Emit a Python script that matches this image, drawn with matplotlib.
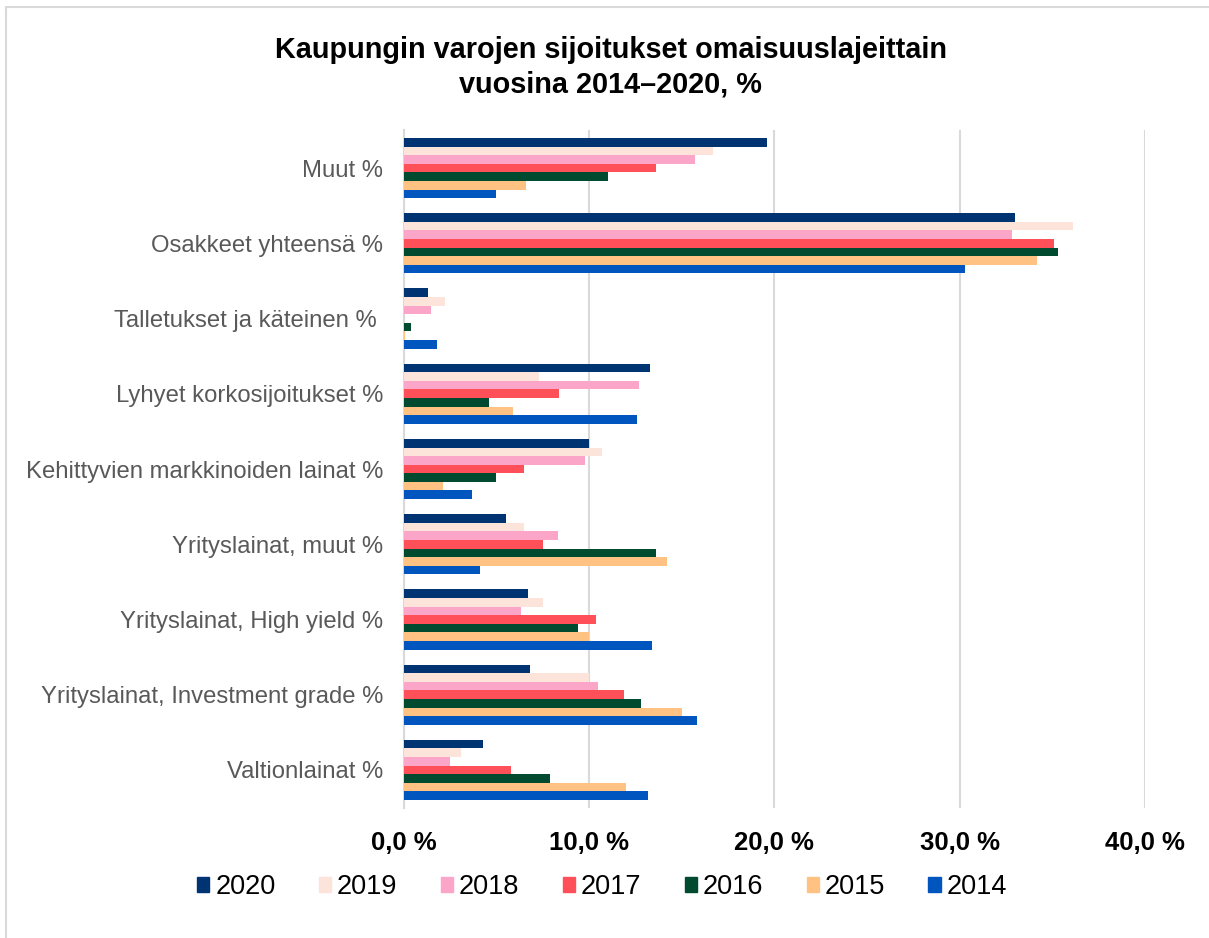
import matplotlib.pyplot as plt
import numpy as np
from matplotlib.patches import Patch, Rectangle

plt.rcParams['font.family'] = ['Liberation Sans', 'DejaVu Sans']

# categories listed bottom to top
categories = [
    "Valtionlainat %",
    "Yrityslainat, Investment grade %",
    "Yrityslainat, High yield %",
    "Yrityslainat, muut %",
    "Kehittyvien markkinoiden lainat %",
    "Lyhyet korkosijoitukset %",
    "Talletukset ja käteinen % ",
    "Osakkeet yhteensä %",
    "Muut %",
]
years = ["2020", "2019", "2018", "2017", "2016", "2015", "2014"]

v2020 = [4.3, 6.8, 6.7, 5.5, 10.0, 13.3, 1.3, 33.0, 19.6]
v2019 = [3.1, 10.0, 7.5, 6.5, 10.7, 7.3, 2.2, 36.1, 16.7]
v2018 = [2.5, 10.5, 6.3, 8.3, 9.8, 12.7, 1.45, 32.8, 15.7]
v2017 = [5.8, 11.9, 10.4, 7.5, 6.5, 8.4, 0.0, 35.1, 13.6]
v2016 = [7.9, 12.8, 9.4, 13.6, 5.0, 4.6, 0.38, 35.3, 11.0]
v2015 = [12.0, 15.0, 10.0, 14.2, 2.1, 5.9, 0.05, 34.2, 6.6]
v2014 = [13.2, 15.8, 13.4, 4.1, 3.7, 12.6, 1.8, 30.3, 5.0]
series = [v2020, v2019, v2018, v2017, v2016, v2015, v2014]

colors = ["#003371", "#FCE4DA", "#FBA5C8", "#FF505A", "#004B30", "#FFC282", "#0055BE"]

fig = plt.figure(figsize=(12.09, 9.38), dpi=100)
ax = fig.add_axes([0.334, 0.139, 0.613, 0.722])

y = np.arange(len(categories))
h = 0.8 / len(years)
for j, (vals, c, yr) in enumerate(zip(series, colors, years)):
    ax.barh(y + (3 - j) * h, vals, height=h, color=c, label=yr, zorder=3)

ax.set_xlim(0, 40)
ax.set_ylim(-0.5, 8.5)
ax.set_xticks([0, 10, 20, 30, 40])
ax.set_xticklabels(["0,0 %", "10,0 %", "20,0 %", "30,0 %", "40,0 %"],
                   fontsize=18.5, fontweight='bold')
ax.set_yticks(y)
ax.set_yticklabels(categories, fontsize=17.2, color="#595959")
ax.tick_params(axis='both', length=0)
ax.tick_params(axis='x', pad=17)
ax.tick_params(axis='y', pad=15)
ax.grid(axis='x', color="#d9d9d9", linewidth=1.5, zorder=0)
for s in ["top", "right", "bottom"]:
    ax.spines[s].set_visible(False)
ax.spines["left"].set_color("#d9d9d9")
ax.spines["left"].set_linewidth(1.5)

fig.text(0.505, 0.962, "Kaupungin varojen sijoitukset omaisuuslajeittain\nvuosina 2014\u20132020, %",
         ha='center', va='top', fontsize=20.8, fontweight='bold', linespacing=1.32)

handles = [Patch(color=c, label=yr) for c, yr in zip(colors, years)]
fig.legend(handles=handles, loc='center', bbox_to_anchor=(0.498, 0.054), ncol=7,
           frameon=False, fontsize=19.5, handlelength=0.45, handleheight=0.45,
           handletextpad=0.22, columnspacing=1.6)

# outer chart frame (only top/left edges visible in the crop)
fig.patches.append(Rectangle((6 / 1209, -0.05), 1.1, 1 - 7 / 938 + 0.05,
                             transform=fig.transFigure, fill=False,
                             edgecolor="#d9d9d9", linewidth=1.5))

fig.savefig("out.png", dpi=100)
